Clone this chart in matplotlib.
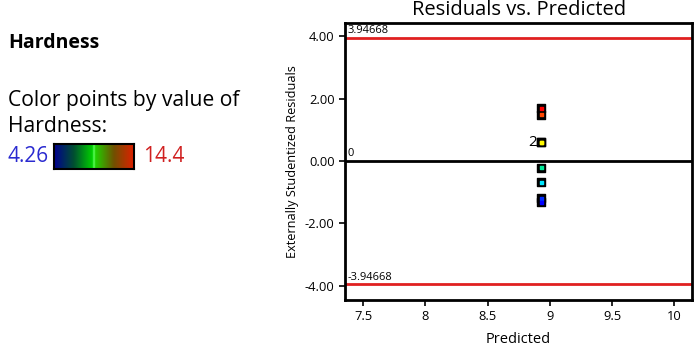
import numpy as np
import matplotlib
matplotlib.use("Agg")
import matplotlib.pyplot as plt
from matplotlib.colors import LinearSegmentedColormap, Normalize

plt.rcParams['font.family'] = ['Open Sans', 'DejaVu Sans']

# Data
predicted = [8.93, 8.93, 8.93, 8.93, 8.93, 8.93, 8.93, 8.93]
residuals = [1.69, 1.49, 0.60, 0.60, -0.21, -0.68, -1.19, -1.32]
hardness = [14.4, 13.6, 11.6, 11.6, 8.6, 7.0, 4.8, 4.26]
hard_min, hard_max = 4.26, 14.4
limit = 3.94668
xticks = [7.5, 8, 8.5, 9, 9.5, 10]
yticks = [-4, -2, 0, 2, 4]
ytick_labels = ["-4.00", "-2.00", "0.00", "2.00", "4.00"]

W, H = 696, 352
fig = plt.figure(figsize=(W / 100, H / 100), dpi=100)

point_cmap = LinearSegmentedColormap.from_list(
    "pts", [(0, "#0000ff"), (0.3, "#00ffff"), (0.5, "#00e060"), (0.72, "#ffff00"), (1, "#ff0000")])
bar_cmap = LinearSegmentedColormap.from_list(
    "bar", [(0, "#000090"), (0.25, "#005030"), (0.48, "#00d000"), (0.5, "#60ff60"),
            (0.52, "#20d000"), (0.75, "#705000"), (1, "#e02000")])
norm = Normalize(hard_min, hard_max)

ax = fig.add_axes([345 / W, 1 - 300 / H, 347 / W, 277 / H])
ax.set_xlim(7.353, 10.142)
ax.set_ylim(-4.45, 4.42)

ax.axhline(limit, color="#e02020", lw=2)
ax.axhline(-limit, color="#e02020", lw=2)
ax.axhline(0, color="black", lw=2)

ax.scatter(predicted, residuals, marker="s", s=26, c="black", zorder=3)
ax.scatter(predicted, residuals, marker="s", s=5, c=[point_cmap(norm(h)) for h in hardness], zorder=4)
ax.text(predicted[2] - 0.035, residuals[2], "2", ha="right", va="center", fontsize=11, zorder=5)

ax.text(7.37, limit + 0.05, "3.94668", fontsize=8, va="bottom", ha="left")
ax.text(7.37, -limit + 0.05, "-3.94668", fontsize=8, va="bottom", ha="left")
ax.text(7.37, 0.05, "0", fontsize=8, va="bottom", ha="left")

ax.set_xticks(xticks)
ax.set_xticklabels([str(t) for t in xticks])
ax.set_yticks(yticks)
ax.set_yticklabels(ytick_labels)
ax.tick_params(labelsize=9.3, direction="out", length=4, width=1.2)
for s in ax.spines.values():
    s.set_linewidth(2)
ax.set_xlabel("Predicted", fontsize=10.5, labelpad=6)
ax.set_ylabel("Externally Studentized Residuals", fontsize=9.2, labelpad=4)

fig.text(519 / W, 1 - 15 / H, "Residuals vs. Predicted", ha="center", va="baseline", fontsize=14.5)

# Left legend texts
fig.text(8 / W, 1 - 48 / H, "Hardness", fontsize=14, fontweight="bold", va="baseline")
fig.text(8 / W, 1 - 106 / H, "Color points by value of", fontsize=15.2, va="baseline")
fig.text(8 / W, 1 - 132 / H, "Hardness:", fontsize=15.2, va="baseline")
fig.text(7 / W, 1 - 162 / H, "4.26", fontsize=15, color="#2a2ad0", va="baseline")
fig.text(143 / W, 1 - 162 / H, "14.4", fontsize=15, color="#d02020", va="baseline")

cax = fig.add_axes([54 / W, 1 - 169 / H, 80 / W, 25 / H])
grad = np.linspace(0, 1, 256).reshape(1, -1)
cax.imshow(grad, aspect="auto", cmap=bar_cmap, extent=[0, 1, 0, 1])
cax.set_xticks([])
cax.set_yticks([])
for s in cax.spines.values():
    s.set_linewidth(1.5)

fig.savefig("out.png", dpi=100)
